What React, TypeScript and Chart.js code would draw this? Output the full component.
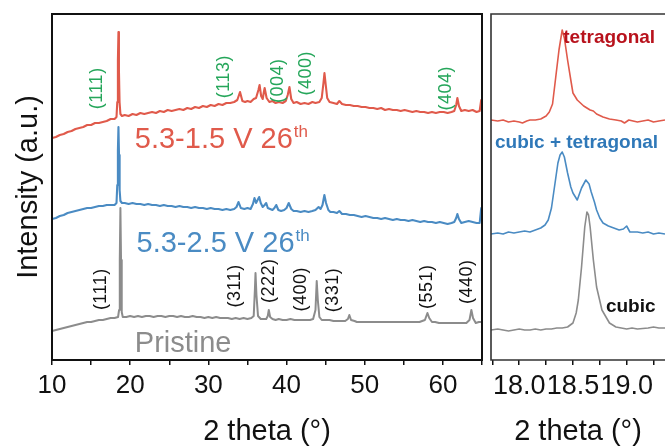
import React, { useEffect, useRef } from 'react';
import { Chart, registerables } from 'chart.js';

Chart.register(...registerables);

const FONT = "'Liberation Sans', Arial, sans-serif";

// ---------- Left panel: full XRD patterns (2θ, intensity a.u.) ----------
const red15: number[][] = [
  [10.0, 222], [10.5, 223], [11.0, 225], [11.5, 226], [12.0, 228], [12.5, 229], [13.0, 231], [13.5, 232],
  [14.0, 233], [14.5, 235], [15.0, 235], [15.5, 237], [16.0, 237], [16.5, 238], [17.0, 239], [17.5, 241],
  [18.0, 241], [18.25, 243], [18.35, 258], [18.43, 300], [18.5, 328], [18.56, 290], [18.64, 258], [18.75, 246],
  [18.95, 244], [19.3, 245], [19.8, 244], [20.3, 246], [20.8, 245], [21.3, 247], [21.8, 246], [22.3, 247],
  [22.8, 248], [23.3, 247], [23.8, 249], [24.3, 248], [24.8, 250], [25.3, 249], [25.8, 250], [26.3, 251],
  [26.8, 250], [27.3, 252], [27.8, 251], [28.3, 253], [28.8, 252], [29.3, 254], [29.8, 253], [30.3, 255],
  [30.8, 254], [31.3, 256], [31.8, 255], [32.3, 257], [32.8, 257], [33.3, 258], [33.7, 260], [34.05, 268],
  [34.35, 259], [34.7, 258], [35.0, 259], [35.4, 258], [35.8, 261], [36.1, 262], [36.4, 270], [36.55, 275],
  [36.75, 264], [36.95, 261], [37.1, 268], [37.2, 272], [37.45, 262], [37.8, 258], [38.2, 259], [38.6, 257],
  [39.0, 258], [39.5, 257], [39.9, 259], [40.15, 265], [40.37, 273], [40.6, 261], [40.9, 257], [41.3, 258],
  [41.8, 256], [42.3, 257], [42.8, 256], [43.3, 258], [43.7, 257], [44.2, 258], [44.5, 262], [44.72, 277],
  [44.85, 287], [45.0, 276], [45.2, 262], [45.5, 258], [46.0, 257], [46.45, 256], [46.75, 259], [47.1, 256],
  [47.6, 255], [48.1, 255], [48.6, 254], [49.1, 254], [49.6, 253], [50.1, 253], [50.6, 252], [51.1, 252],
  [51.6, 251], [52.1, 252], [52.6, 250], [53.1, 251], [53.6, 250], [54.1, 250], [54.6, 249], [55.1, 250],
  [55.6, 249], [56.1, 248], [56.6, 249], [57.1, 248], [57.6, 248], [58.1, 247], [58.6, 248], [59.1, 247],
  [59.6, 248], [60.1, 248], [60.6, 247], [61.1, 248], [61.45, 249], [61.7, 255], [61.85, 262], [62.05, 254],
  [62.35, 249], [62.8, 250], [63.3, 249], [63.8, 250], [64.3, 248], [64.7, 249], [64.9, 260], [65.0, 250],
];

const blue25: number[][] = [
  [10.0, 141], [10.5, 142], [11.0, 144], [11.5, 145], [12.0, 147], [12.5, 148], [13.0, 149], [13.5, 150],
  [14.0, 151], [14.5, 152], [15.0, 152], [15.5, 153], [16.0, 154], [16.5, 154], [17.0, 155], [17.5, 155],
  [18.0, 155], [18.25, 157], [18.35, 175], [18.43, 210], [18.5, 233], [18.57, 205], [18.65, 170], [18.75, 159],
  [18.95, 157], [19.3, 157], [19.8, 156], [20.3, 157], [20.8, 156], [21.3, 156], [21.8, 155], [22.3, 156],
  [22.8, 155], [23.3, 155], [23.8, 154], [24.3, 155], [24.8, 154], [25.3, 154], [25.8, 153], [26.3, 154],
  [26.8, 153], [27.3, 153], [27.8, 152], [28.3, 153], [28.8, 152], [29.3, 152], [29.8, 151], [30.3, 152],
  [30.8, 151], [31.3, 151], [31.8, 150], [32.3, 151], [32.8, 150], [33.3, 151], [33.6, 153], [33.86, 158],
  [34.15, 152], [34.6, 151], [35.0, 152], [35.4, 151], [35.7, 156], [35.9, 162], [36.1, 157], [36.3, 160],
  [36.5, 163], [36.7, 157], [36.95, 153], [37.2, 155], [37.4, 157], [37.6, 152], [37.9, 151], [38.2, 150],
  [38.45, 152], [38.68, 155], [38.95, 150], [39.3, 149], [39.7, 150], [40.0, 152], [40.28, 157], [40.6, 151],
  [40.9, 149], [41.3, 149], [41.8, 148], [42.3, 149], [42.8, 148], [43.3, 149], [43.7, 150], [44.1, 153],
  [44.35, 151], [44.6, 155], [44.84, 165], [45.05, 157], [45.35, 150], [45.6, 148], [46.0, 148], [46.45, 147],
  [46.75, 149], [47.1, 146], [47.6, 146], [48.1, 145], [48.6, 145], [49.1, 144], [49.6, 143], [50.1, 144],
  [50.6, 143], [51.1, 142], [51.6, 142], [52.1, 141], [52.6, 142], [53.1, 141], [53.6, 140], [54.1, 141],
  [54.6, 140], [55.1, 140], [55.6, 139], [56.1, 140], [56.6, 139], [57.1, 138], [57.6, 139], [58.1, 138],
  [58.6, 138], [59.1, 137], [59.6, 138], [60.1, 137], [60.6, 136], [61.1, 137], [61.45, 138], [61.7, 142],
  [61.85, 146], [62.05, 141], [62.35, 137], [62.8, 138], [63.3, 139], [63.8, 138], [64.3, 137], [64.7, 137],
  [64.9, 152], [65.0, 140],
];

const pristine: number[][] = [
  [10.0, 29], [10.5, 30], [11.0, 31], [11.5, 32], [12.0, 33], [12.5, 34], [13.0, 35], [13.5, 36],
  [14.0, 37], [14.5, 38], [15.0, 38], [15.5, 39], [16.0, 40], [16.5, 40], [17.0, 41], [17.5, 42],
  [18.0, 42], [18.45, 43], [18.58, 50], [18.67, 100], [18.75, 152], [18.83, 100], [18.92, 48], [19.05, 43],
  [19.5, 43], [20.0, 44], [20.5, 43], [21.0, 44], [21.5, 43], [22.0, 44], [22.5, 44], [23.0, 43],
  [23.5, 44], [24.0, 44], [24.5, 43], [25.0, 44], [25.5, 44], [26.0, 43], [26.5, 44], [27.0, 43],
  [27.5, 43], [28.0, 44], [28.5, 43], [29.0, 43], [29.5, 42], [30.0, 43], [30.5, 42], [31.0, 43],
  [31.5, 42], [32.0, 42], [32.5, 42], [33.0, 41], [33.5, 42], [34.0, 41], [34.5, 42], [35.0, 41],
  [35.5, 42], [35.8, 44], [35.95, 70], [36.03, 87], [36.15, 65], [36.35, 44], [36.7, 41], [37.0, 41],
  [37.4, 41], [37.6, 44], [37.73, 50], [37.9, 43], [38.2, 41], [38.6, 40], [39.0, 41], [39.5, 40],
  [40.0, 40], [40.5, 41], [41.0, 40], [41.5, 40], [42.0, 40], [42.5, 40], [43.0, 40], [43.4, 41],
  [43.7, 50], [43.86, 79], [44.0, 60], [44.2, 43], [44.5, 40], [45.0, 40], [45.5, 40], [46.0, 39],
  [46.5, 39], [47.0, 39], [47.5, 39], [47.85, 41], [48.03, 45], [48.25, 40], [48.7, 39], [49.0, 38],
  [49.5, 38], [50.0, 38], [51.0, 38], [52.0, 38], [53.0, 38], [54.0, 38], [55.0, 38], [56.0, 38],
  [57.0, 38], [57.7, 40], [58.02, 47], [58.25, 42], [58.6, 38], [59.0, 38], [59.5, 37], [60.0, 37],
  [60.5, 37], [61.0, 37], [61.5, 37], [62.0, 37], [62.5, 37], [63.0, 37], [63.4, 40], [63.64, 50],
  [63.85, 42], [64.2, 37], [64.6, 38], [65.0, 38],
];

// ---------- Right panel: zoom on the (111) reflection ----------
const zoomRed: number[][] = [
  [17.737, 240], [17.8, 239], [17.85, 240], [17.9, 238], [17.95, 239], [18.0, 238], [18.03, 237], [18.07, 239],
  [18.1, 240], [18.15, 240], [18.2, 241], [18.25, 244], [18.28, 248], [18.31, 256], [18.34, 283], [18.37, 310],
  [18.4, 330], [18.42, 322], [18.45, 300], [18.48, 280], [18.5, 267], [18.54, 260], [18.57, 257], [18.6, 254],
  [18.63, 252], [18.66, 250], [18.69, 249], [18.72, 246], [18.78, 243], [18.84, 241], [18.9, 240], [18.95, 239],
  [18.98, 237], [19.02, 240], [19.06, 239], [19.1, 238], [19.15, 239], [19.2, 240], [19.25, 238], [19.3, 239],
  [19.357, 240],
];

const zoomBlue: number[][] = [
  [17.737, 126], [17.8, 127], [17.85, 126], [17.9, 128], [17.95, 127], [18.0, 128], [18.05, 129], [18.1, 128],
  [18.15, 130], [18.2, 132], [18.24, 135], [18.27, 140], [18.3, 152], [18.32, 167], [18.34, 182], [18.36, 197],
  [18.38, 205], [18.4, 208], [18.42, 203], [18.45, 187], [18.48, 173], [18.5, 167], [18.54, 160], [18.58, 172],
  [18.62, 180], [18.65, 176], [18.67, 168], [18.7, 158], [18.72, 150], [18.75, 142], [18.78, 137], [18.83, 134],
  [18.88, 132], [18.93, 130], [18.97, 131], [19.0, 134], [19.03, 128], [19.1, 128], [19.15, 127], [19.2, 128],
  [19.25, 126], [19.3, 127], [19.357, 126],
];

const zoomGray: number[][] = [
  [17.737, 30], [17.8, 31], [17.85, 30], [17.9, 29], [17.95, 30], [18.0, 31], [18.05, 30], [18.1, 30],
  [18.15, 31], [18.2, 30], [18.25, 31], [18.3, 31], [18.35, 32], [18.4, 32], [18.45, 33], [18.5, 37],
  [18.53, 47], [18.55, 60], [18.58, 93], [18.61, 133], [18.63, 148], [18.645, 145], [18.66, 133], [18.69, 100],
  [18.72, 73], [18.77, 50], [18.84, 37], [18.9, 33], [18.95, 32], [19.0, 31], [19.05, 32], [19.1, 31],
  [19.2, 32], [19.25, 33], [19.3, 32], [19.357, 32],
];

// ---------- Labels ----------
const tetraHkl = ['(111)', '(113)', '(004)', '(400)', '(404)'];
const tetraHklX = [15.7, 31.99, 38.88, 42.5, 60.37];
const tetraHklY = [271.7, 283.3, 279.2, 286.7, 271.7];

const cubicHkl = ['(111)', '(311)', '(222)', '(400)', '(331)', '(551)', '(440)'];
const cubicHklX = [16.23, 33.35, 37.72, 41.87, 45.99, 58.02, 63.13];
const cubicHklY = [70.8, 74.2, 79.2, 70.8, 70, 73.3, 78.3];

const seriesNames = ['5.3-1.5 V 26', '5.3-2.5 V 26', 'Pristine'];
const seriesSup = ['th', 'th', ''];
const seriesNameX = [20.59, 20.81, 20.59];
const seriesNameY = [211.7, 108.3, 8.3];

const phaseNames = ['tetragonal', 'cubic + tetragonal', 'cubic'];
const phaseX = [18.41, 17.774, 18.807];
const phaseY = [316.7, 211.7, 48.3];

const leftTicks = [10, 15, 20, 25, 30, 35, 40, 45, 50, 55, 60, 65];
const rightTicks = [17.75, 18.0, 18.25, 18.5, 18.75, 19.0, 19.25];

const RED = '#e05a4b';
const BLUE = '#4a8bc3';
const GRAY = '#8c8c8c';
const GREEN = '#25a65a';

const toXY = (arr: number[][]) => arr.map(([x, y]) => ({ x, y }));

function baseOptions(min: number, max: number, ticks: number[], labelFn: (v: number) => string, padLeft: number, padRight: number, tickFont: number): any {
  return {
    responsive: false,
    animation: false,
    devicePixelRatio: 1,
    events: [],
    layout: { padding: { left: padLeft, right: padRight, top: 14, bottom: 0 } },
    plugins: { legend: { display: false }, tooltip: { enabled: false } },
    elements: { point: { radius: 0 }, line: { tension: 0, borderJoinStyle: 'round' } },
    scales: {
      x: {
        type: 'linear',
        min,
        max,
        afterFit: (s: any) => { s.height = 86; },
        afterBuildTicks: (s: any) => { s.ticks = ticks.map((v) => ({ value: v })); },
        grid: { drawOnChartArea: false, drawTicks: true, tickLength: 5, color: '#111', lineWidth: 1.5 },
        border: { display: false },
        ticks: {
          autoSkip: false,
          maxRotation: 0,
          minRotation: 0,
          padding: 5,
          color: '#111',
          font: { family: FONT, size: tickFont },
          callback: (v: any) => labelFn(Number(v)),
        },
      },
      y: { type: 'linear', min: 0, max: 346, display: false },
    },
  };
}

function drawXTitle(ctx: CanvasRenderingContext2D, a: any) {
  ctx.fillStyle = '#111';
  ctx.font = `29px ${FONT}`;
  ctx.textAlign = 'center';
  ctx.textBaseline = 'alphabetic';
  ctx.fillText('2 theta (°)', (a.left + a.right) / 2, 440);
}

const leftDeco = {
  id: 'leftDeco',
  afterDraw(chart: any) {
    const { ctx, chartArea: a, scales } = chart;
    const sx = scales.x, sy = scales.y;
    ctx.save();
    ctx.strokeStyle = '#111';
    ctx.lineWidth = 2;
    ctx.strokeRect(a.left, a.top, a.right - a.left, a.bottom - a.top);

    const rot = (t: string, xv: number, yv: number, color: string) => {
      ctx.save();
      ctx.translate(sx.getPixelForValue(xv), sy.getPixelForValue(yv));
      ctx.rotate(-Math.PI / 2);
      ctx.fillStyle = color;
      ctx.font = `18px ${FONT}`;
      (ctx as any).letterSpacing = '0.5px';
      ctx.textAlign = 'center';
      ctx.textBaseline = 'middle';
      ctx.fillText(t, 0, 0);
      ctx.restore();
    };
    tetraHkl.forEach((t, i) => rot(t, tetraHklX[i], tetraHklY[i], GREEN));
    cubicHkl.forEach((t, i) => rot(t, cubicHklX[i], cubicHklY[i], '#111'));

    const colors = [RED, BLUE, GRAY];
    seriesNames.forEach((t, i) => {
      const px = sx.getPixelForValue(seriesNameX[i]);
      const py = sy.getPixelForValue(seriesNameY[i]);
      ctx.fillStyle = colors[i];
      ctx.font = `29px ${FONT}`;
      ctx.textAlign = 'left';
      ctx.textBaseline = 'alphabetic';
      ctx.fillText(t, px, py);
      if (seriesSup[i]) {
        const w = ctx.measureText(t).width;
        ctx.font = `17px ${FONT}`;
        ctx.fillText(seriesSup[i], px + w + 1, py - 11);
      }
    });

    // y title
    ctx.save();
    ctx.translate(37, (a.top + a.bottom) / 2);
    ctx.rotate(-Math.PI / 2);
    ctx.fillStyle = '#111';
    ctx.font = `29px ${FONT}`;
    ctx.textAlign = 'center';
    ctx.textBaseline = 'alphabetic';
    ctx.fillText('Intensity (a.u.)', 0, 0);
    ctx.restore();

    drawXTitle(ctx, a);
    ctx.restore();
  },
};

const rightDeco = {
  id: 'rightDeco',
  afterDraw(chart: any) {
    const { ctx, chartArea: a, scales } = chart;
    const sx = scales.x, sy = scales.y;
    ctx.save();
    ctx.strokeStyle = '#333';
    ctx.lineWidth = 1.6;
    ctx.beginPath();
    ctx.moveTo(a.right + 5, a.top);
    ctx.lineTo(a.left, a.top);
    ctx.lineTo(a.left, a.bottom);
    ctx.lineTo(a.right + 5, a.bottom);
    ctx.stroke();

    const colors = ['#b8121c', '#2f78b8', '#111'];
    phaseNames.forEach((t, i) => {
      ctx.fillStyle = colors[i];
      ctx.font = `bold 19px ${FONT}`;
      ctx.textAlign = 'left';
      ctx.textBaseline = 'alphabetic';
      ctx.fillText(t, sx.getPixelForValue(phaseX[i]), sy.getPixelForValue(phaseY[i]));
    });
    drawXTitle(ctx, a);
    ctx.restore();
  },
};

export default function App() {
  const leftRef = useRef<HTMLCanvasElement>(null);
  const rightRef = useRef<HTMLCanvasElement>(null);

  useEffect(() => {
    const left = new Chart(leftRef.current as HTMLCanvasElement, {
      type: 'line',
      data: {
        datasets: [
          { data: toXY(red15), borderColor: RED, borderWidth: 2.1 },
          { data: toXY(blue25), borderColor: BLUE, borderWidth: 2.1 },
          { data: toXY(pristine), borderColor: GRAY, borderWidth: 2 },
        ],
      },
      options: baseOptions(10, 65, leftTicks, (v) => (v % 10 === 0 && v <= 60 ? String(v) : ''), 52, 4, 26),
      plugins: [leftDeco],
    } as any);

    const right = new Chart(rightRef.current as HTMLCanvasElement, {
      type: 'line',
      data: {
        datasets: [
          { data: toXY(zoomRed), borderColor: RED, borderWidth: 1.6 },
          { data: toXY(zoomBlue), borderColor: BLUE, borderWidth: 1.6 },
          { data: toXY(zoomGray), borderColor: GRAY, borderWidth: 1.6 },
        ],
      },
      options: baseOptions(17.737, 19.357, rightTicks, (v) => (Math.abs(v * 2 - Math.round(v * 2)) < 1e-6 ? v.toFixed(1) : ''), 4, 0, 27),
      plugins: [rightDeco],
    } as any);

    return () => {
      left.destroy();
      right.destroy();
    };
  }, []);

  return (
    <div style={{ position: 'fixed', left: 0, top: 0, width: 665, height: 446, background: '#fff', overflow: 'hidden' }}>
      <canvas ref={leftRef} width={487} height={446} style={{ position: 'absolute', left: 0, top: 0, width: 487, height: 446 }} />
      <canvas ref={rightRef} width={178} height={446} style={{ position: 'absolute', left: 487, top: 0, width: 178, height: 446 }} />
    </div>
  );
}
